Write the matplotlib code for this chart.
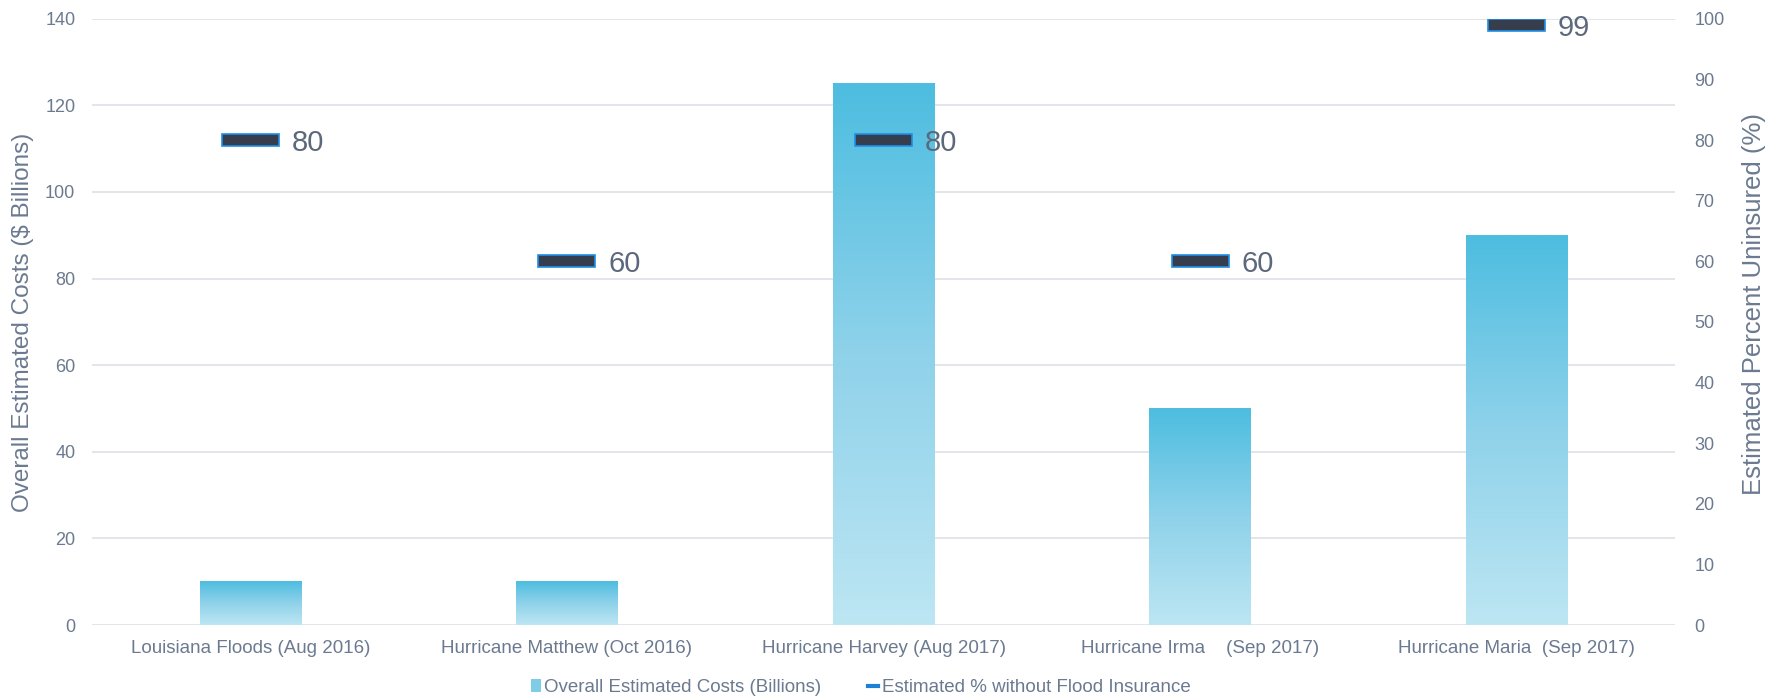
import numpy as np
import matplotlib
matplotlib.use('Agg')
from matplotlib import pyplot as plt
from matplotlib.colors import LinearSegmentedColormap
from matplotlib.patches import Patch
from matplotlib.lines import Line2D

plt.rcParams['font.family'] = ['Liberation Sans', 'DejaVu Sans']

events = ['Louisiana Floods (Aug 2016)', 'Hurricane Matthew (Oct 2016)',
          'Hurricane Harvey (Aug 2017)', 'Hurricane Irma    (Sep 2017)',
          'Hurricane Maria  (Sep 2017)']
costs = [10, 10, 125, 50, 90]
uninsured = [80, 60, 80, 60, 99]

TEXT = '#6B7A90'
GRID = '#DDE1E8'
grad = LinearSegmentedColormap.from_list('bar', ['#BDE6F3', '#8FD2EA', '#4DBDE0'])

fig = plt.figure(figsize=(17.8, 6.96), dpi=100)
ax = fig.add_axes([0.0517, 0.102, 0.8893, 0.871])
ax2 = ax.twinx()

x = np.arange(len(events))
bars = ax.bar(x, costs, width=0.32, color='none', zorder=2)

# vertical gradient inside each bar
g = np.linspace(0, 1, 256).reshape(-1, 1)
for b in bars:
    x0, y0 = b.get_x(), b.get_y()
    ax.imshow(g, cmap=grad, origin='lower', aspect='auto', zorder=2,
              extent=(x0, x0 + b.get_width(), y0, y0 + b.get_height()))
ax.set_xlim(-0.5, len(events) - 0.5)
ax.set_ylim(0, 140)

ax.set_yticks(range(0, 141, 20))
ax.grid(axis='y', color=GRID, lw=1.2, zorder=0)
ax.set_axisbelow(True)
ax.set_xticks(x, events)
ax.tick_params(axis='y', length=0, labelsize=13, colors=TEXT, pad=12)
ax.tick_params(axis='x', length=0, labelsize=13.5, colors=TEXT, pad=11)
ax.set_ylabel('Overall Estimated Costs ($ Billions)', fontsize=17.5, color=TEXT, labelpad=8)

ax2.set_ylim(0, 100)
ax2.set_yticks(range(0, 101, 10))
ax2.tick_params(axis='y', length=0, labelsize=13, colors=TEXT, pad=14)
ax2.set_ylabel('Estimated Percent Uninsured (%)', fontsize=18.5, color=TEXT)
ax2.yaxis.set_label_coords(1.0425, 0.53)
for xi, v in zip(x, uninsured):
    ax2.add_patch(plt.Rectangle((xi - 0.09, v - 1.0), 0.18, 2.0,
                                facecolor='#363E4E', edgecolor='#1E8FE6', lw=1.2, zorder=4))
    ax2.text(xi + 0.13, v, str(v), fontsize=21, color='#5C687B',
             va='center_baseline', ha='left', zorder=5)

for a in (ax, ax2):
    for s in a.spines.values():
        s.set_visible(False)

handles = [Patch(facecolor='#7FCCE7', edgecolor='none'),
           Line2D([], [], color='#1E7FD6', lw=3)]
fig.legend(handles, ['Overall Estimated Costs (Billions)',
                     'Estimated % without Flood Insurance'],
           loc='center', bbox_to_anchor=(0.4836, 0.012), ncol=2, frameon=False,
           fontsize=13.5, labelcolor=TEXT, handlelength=0.5, handletextpad=0.2,
           columnspacing=2.5, handleheight=0.7)

fig.savefig('out.png', dpi=100)
